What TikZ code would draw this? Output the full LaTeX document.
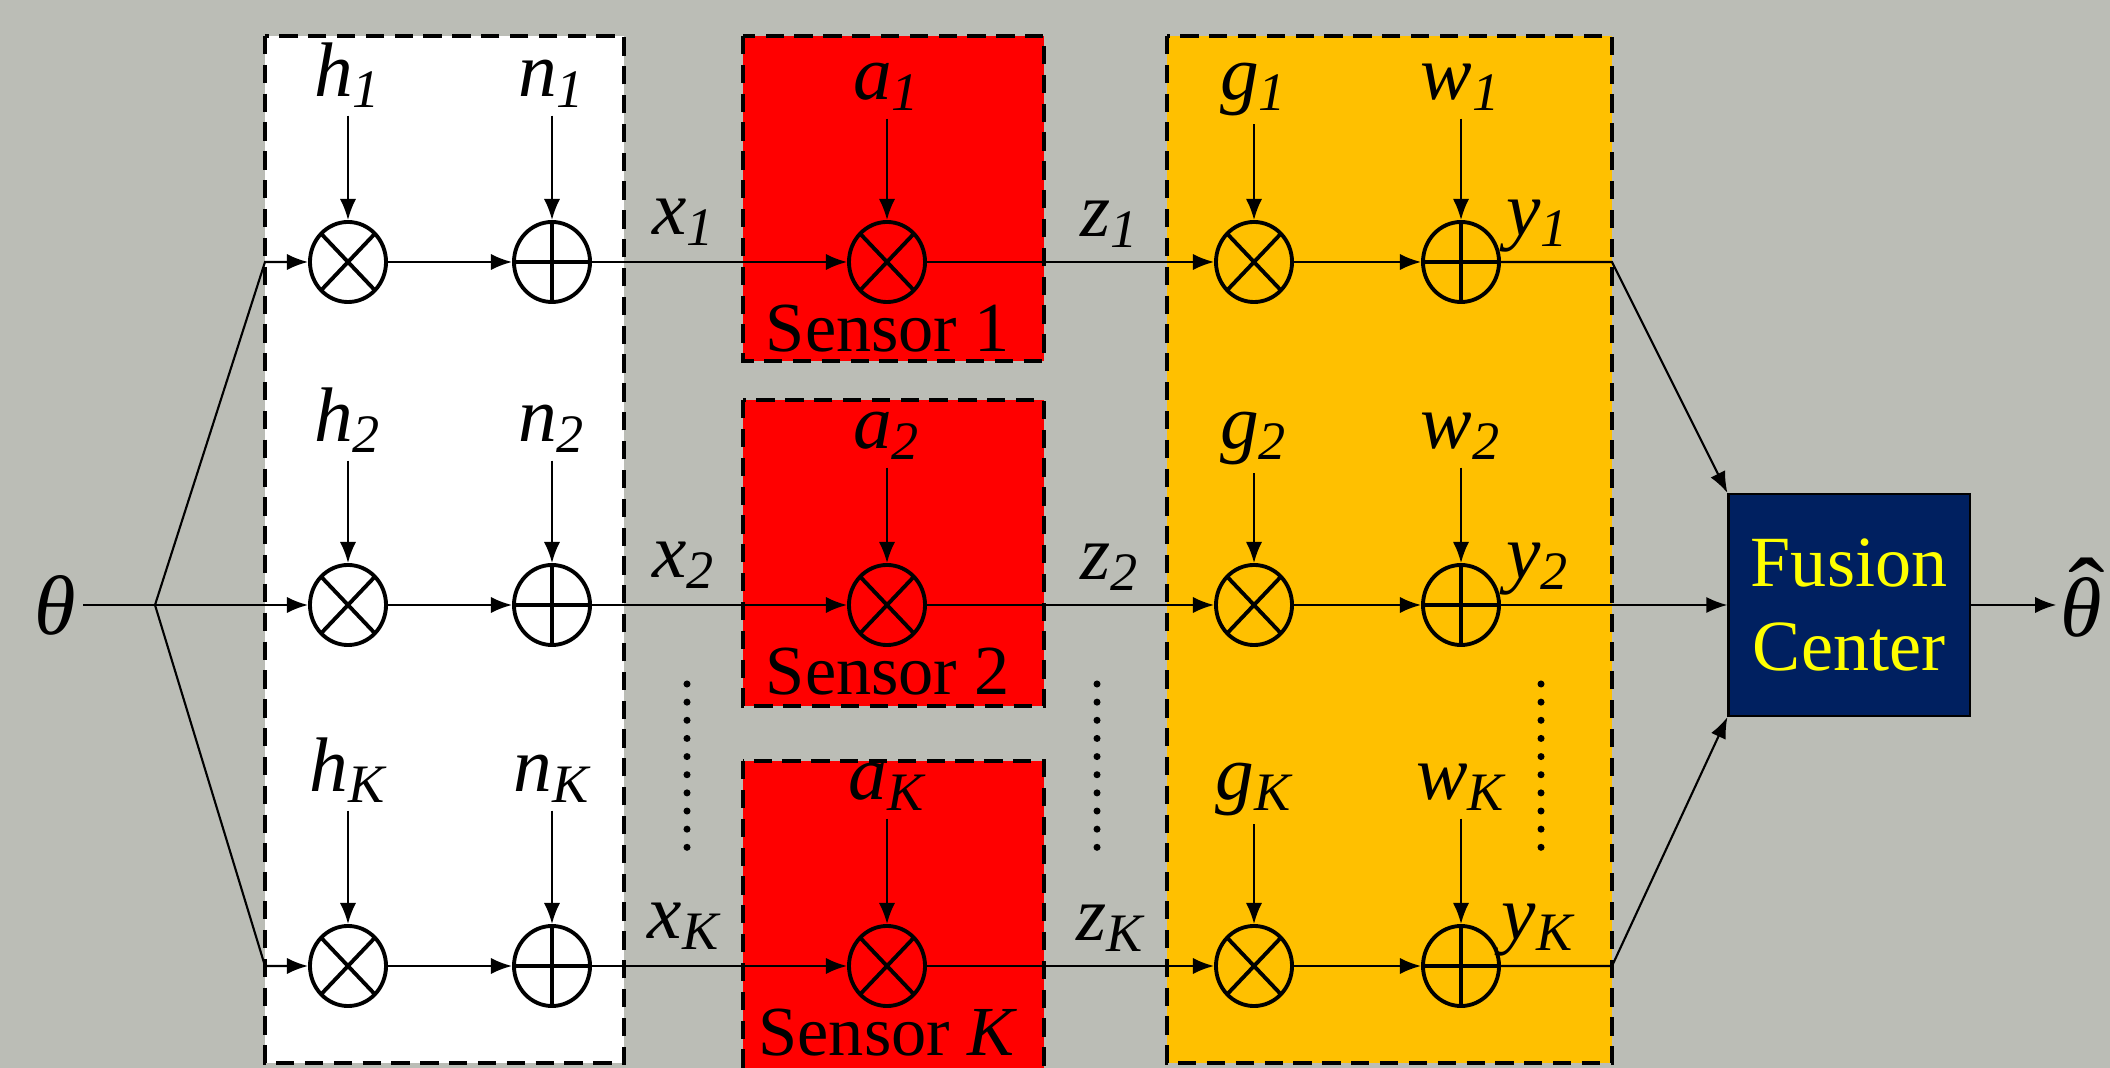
\documentclass[tikz,border=0pt]{standalone}
\usepackage{fontspec}
\setmainfont{Liberation Serif}
\usetikzlibrary{arrows.meta, shapes.geometric}

\definecolor{bggray}{RGB}{187,189,182}
\definecolor{sensred}{RGB}{255,0,0}
\definecolor{chanorange}{RGB}{255,192,0}
\definecolor{fcnavy}{RGB}{0,32,96}
\definecolor{fcyellow}{RGB}{255,255,0}

\tikzset{
    sig/.style={-{Latex[length=6pt,width=4.6pt]}, line width=0.6pt},
    mult/.style={draw, ellipse, line width=1.1pt, minimum width=0.76cm,
        minimum height=0.80cm, inner sep=0pt,
        path picture={\draw[line width=1.1pt]
            (path picture bounding box.north west) -- (path picture bounding box.south east)
            (path picture bounding box.north east) -- (path picture bounding box.south west);}},
    adder/.style={draw, ellipse, line width=1.1pt, minimum width=0.76cm,
        minimum height=0.80cm, inner sep=0pt,
        path picture={\draw[line width=1.1pt]
            (path picture bounding box.north) -- (path picture bounding box.south)
            (path picture bounding box.west) -- (path picture bounding box.east);}},
    var/.style={font=\fontsize{22}{24}\selectfont\itshape, inner sep=2pt},
    gain/.style={var, anchor=base},
    stagebox/.style={draw, line width=1.3pt, dash pattern=on 5.2pt off 3pt},
    dotcol/.style={line width=2pt, line cap=round, dash pattern=on 0pt off 5.16pt},
}

\begin{document}
\begin{tikzpicture}[x=0.01cm, y=-0.01cm]
    \useasboundingbox (0,0) rectangle (2110,1068);
    \fill[bggray] (0,0) rectangle (2110,1068);

    % Stage boxes
    \filldraw[stagebox, fill=white] (265,36) rectangle (624,1063);
    \filldraw[stagebox, fill=sensred] (743,36) rectangle (1044,361);
    \filldraw[stagebox, fill=sensred] (743,400) rectangle (1044,706);
    \filldraw[stagebox, fill=sensred] (743,761) rectangle (1044,1080);
    \filldraw[stagebox, fill=chanorange] (1167,36) rectangle (1612,1063);

    % Vertical dots between rows
    \foreach \xx in {687, 1097, 1541} {
        \draw[dotcol] (\xx,684) -- (\xx,850);
    }

    % Source and fan-out
    \node[var, font=\fontsize{24}{26}\selectfont\itshape] (theta) at (55,605) {θ};
    \coordinate (fan) at (155,605);
    \draw[line width=0.6pt] (theta) -- (fan);

    % One chain per sensor
    \foreach \k/\yy/\sname/\bh/\ba in {1/262/1/97/100, 2/605/2/442/449, K/966/\textit{K}/792/800} {
        \node[mult] (mh\k) at (348,\yy) {};
        \node[adder] (an\k) at (552,\yy) {};
        \node[mult] (ma\k) at (887,\yy) {};
        \node[mult] (mg\k) at (1254,\yy) {};
        \node[adder] (aw\k) at (1461,\yy) {};
        % gains and noises
        \node[gain] (lh\k) at (348,\bh) {h\textsubscript{\k}};
        \node[gain] (ln\k) at (552,\bh) {n\textsubscript{\k}};
        \node[gain] (la\k) at (887,\ba) {a\textsubscript{\k}};
        \node[gain] (lg\k) at (1254,\ba) {g\textsubscript{\k}};
        \node[gain] (lw\k) at (1461,\ba) {w\textsubscript{\k}};
        \draw[sig] (lh\k) -- (mh\k);
        \draw[sig] (ln\k) -- (an\k);
        \draw[sig] (la\k) -- (ma\k);
        \draw[sig] (lg\k) -- (mg\k);
        \draw[sig] (lw\k) -- (aw\k);
        % signal path
        \coordinate (in\k) at (265,\yy);
        \coordinate (out\k) at (1612,\yy);
        \draw[sig] (fan) -- (in\k) -- (mh\k);
        \draw[sig] (mh\k) -- (an\k);
        \draw[sig] (an\k) -- (ma\k);
        \draw[sig] (ma\k) -- (mg\k);
        \draw[sig] (mg\k) -- (aw\k);
        \node[var] (x\k) at (684,\yy-40) {x\textsubscript{\k}};
        \node[var] (z\k) at (1110,\yy-38) {z\textsubscript{\k}};
        \node[var] (y\k) at (1538,\yy-36) {y\textsubscript{\k}};
        \node[font=\fontsize{20}{22}\selectfont] (sens\k) at (888,\yy+67) {Sensor \sname};
    }

    % Fusion center
    \node[draw=black, line width=0.6pt, fill=fcnavy, text=fcyellow, align=center,
        minimum width=2.41cm, minimum height=2.22cm,
        font=\fontsize{20.5}{24}\selectfont] (fc) at (1849,605) {Fusion\\Center};
    \draw[sig] (aw1) -- (out1) -- (fc.north west);
    \draw[sig] (aw2) -- (fc.west);
    \draw[sig] (awK) -- (outK) -- (fc.south west);
    \node[var, font=\fontsize{24}{26}\selectfont\itshape, inner sep=1pt, anchor=base]
        (thetahat) at (2083,637)
        {\ooalign{\hfil\kern0.1em\raisebox{0.14em}{\upshape\scalebox{1.3}[1.15]{ˆ}}\hfil\cr θ\cr}};
    \draw[sig] (fc.east) -- (fc.east -| thetahat.west);
\end{tikzpicture}
\end{document}
